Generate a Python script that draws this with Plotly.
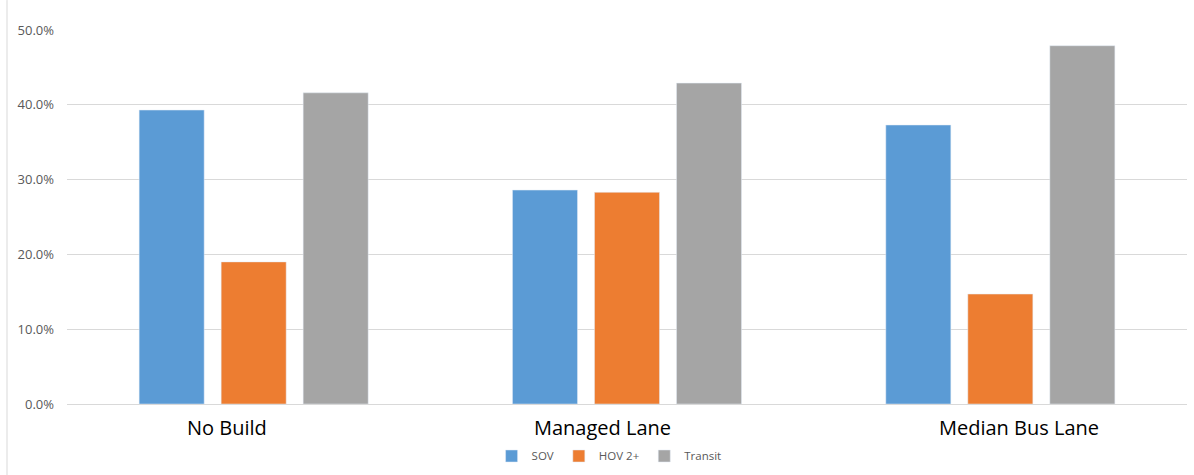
import plotly.graph_objects as go

categories = ["No Build", "Managed Lane", "Median Bus Lane"]
sov = [39.3, 28.6, 37.3]
hov = [19.0, 28.3, 14.7]
transit = [41.6, 42.9, 47.9]
y_ticks = [0, 10, 20, 30, 40, 50]
label_shift = [-27, -25, 19]

fig = go.Figure()
fig.add_trace(go.Bar(name="SOV", x=categories, y=sov, marker_color="#5B9BD5"))
fig.add_trace(go.Bar(name="HOV 2+", x=categories, y=hov, marker_color="#ED7D31"))
fig.add_trace(go.Bar(name="Transit", x=categories, y=transit, marker_color="#A5A5A5"))

fig.update_layout(
    width=1194, height=475,
    margin=dict(l=67, r=7, t=30, b=71, autoexpand=False),
    paper_bgcolor="white", plot_bgcolor="white",
    barmode="group", bargap=0.341, bargroupgap=0.207,
    font=dict(family="Open Sans, Liberation Sans, sans-serif", color="#595959"),
    legend=dict(orientation="h", x=0.484, xanchor="center", y=-0.139, yanchor="middle",
                font=dict(size=11.5, color="#595959"), itemwidth=30,
                traceorder="normal"),
    showlegend=True,
)
fig.update_xaxes(showgrid=False, showline=False, ticks="", showticklabels=False,
                 automargin=False)
fig.update_yaxes(range=[0, 50], tickvals=y_ticks, ticktext=[f"{v:.1f}%" for v in y_ticks],
                 showgrid=True, gridcolor="#D9D9D9", gridwidth=1,
                 zeroline=True, zerolinecolor="#D9D9D9", zerolinewidth=1,
                 showline=False, ticks="", tickfont=dict(size=13, color="#595959"),
                 ticklabelstandoff=12, automargin=False)
for cat, dx in zip(categories, label_shift):
    fig.add_annotation(x=cat, y=0, xref="x", yref="paper", text=cat, showarrow=False,
                       xanchor="center", yanchor="middle", xshift=dx, yshift=-23,
                       font=dict(size=20, color="#000000",
                                 family="Open Sans, Liberation Sans, sans-serif"))
fig.add_shape(type="line", xref="paper", yref="paper",
              x0=(7 - 67) / 1120, x1=(7 - 67) / 1120, y0=-0.19, y1=1.08,
              line=dict(color="#D9D9D9", width=1))

fig.write_html("out.html")
